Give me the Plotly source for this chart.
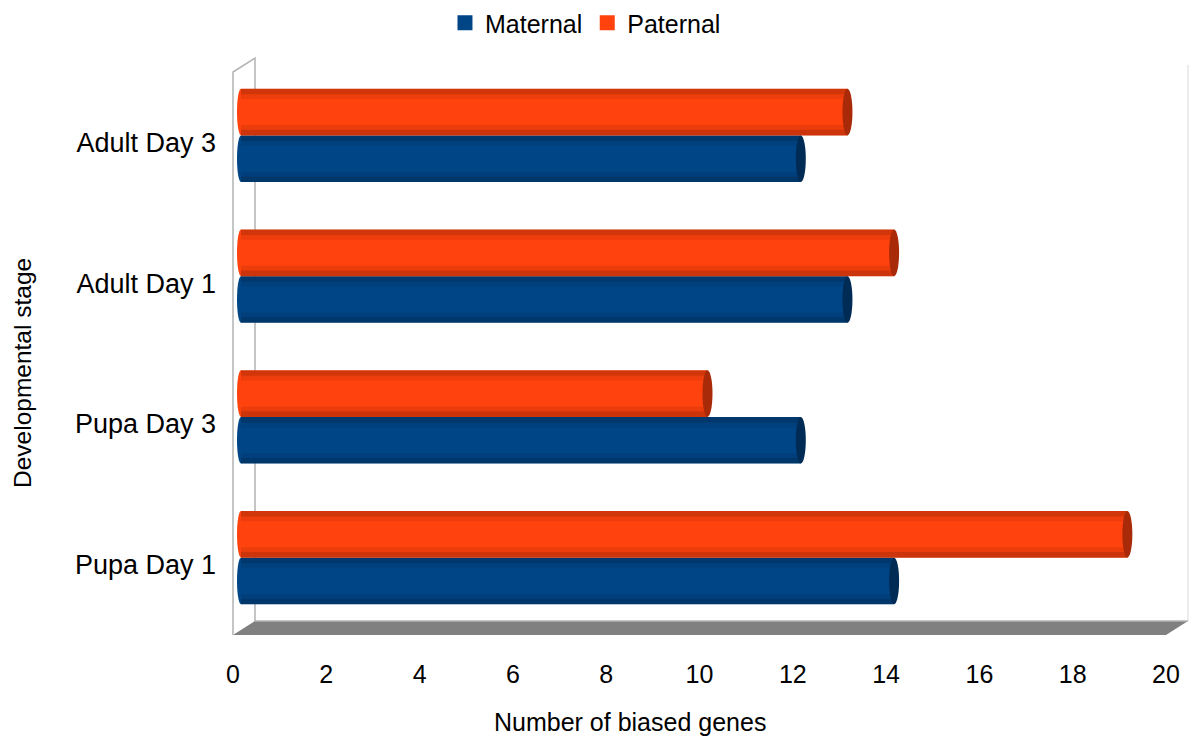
import plotly.graph_objects as go

# Data
stages = ["Pupa Day 1", "Pupa Day 3", "Adult Day 1", "Adult Day 3"]
maternal = [14, 12, 13, 12]
paternal = [19, 10, 14, 13]
x_ticks = [0, 2, 4, 6, 8, 10, 12, 14, 16, 18, 20]

MAT_COLOR = "#004586"
PAT_COLOR = "#ff420e"
MAT_CAP = "#002b55"
PAT_CAP = "#a82a08"
WALL = "#b3b3b3"
FLOOR = "#808080"
FONT = "Liberation Sans, Arial, sans-serif"

W, H = 1190, 742
ML, MR, MT, MB = 233, 16, 65, 107
PW = W - ML - MR          # plot area width in px
PH = H - MT - MB          # plot area height in px
DX, DY = 8, 7             # depth offset of the bars (px)
BX, BY = 22, 14           # depth offset of the back wall (px)

XMAX = 20
xscale = (PW - DX) / XMAX         # px per unit on the front axis
yscale = (PH - DY) / len(stages)  # px per category on the front axis

BARGAP = 0.336
bar_w = (1 - BARGAP) / 2

fig = go.Figure()
fig.add_trace(go.Bar(name="Maternal", y=stages, x=maternal, orientation="h",
                     marker=dict(color=MAT_COLOR, line=dict(width=0)),
                     xaxis="x2", yaxis="y2", showlegend=False))
fig.add_trace(go.Bar(name="Paternal", y=stages, x=paternal, orientation="h",
                     marker=dict(color=PAT_COLOR, line=dict(width=0)),
                     xaxis="x2", yaxis="y2", showlegend=False))
# invisible trace so the front axes (ticks) are rendered
fig.add_trace(go.Scatter(x=paternal, y=stages, mode="none", showlegend=False,
                         hoverinfo="skip", xaxis="x", yaxis="y"))
# legend entries with square keys
for name, col in [("Maternal", MAT_COLOR), ("Paternal", PAT_COLOR)]:
    fig.add_trace(go.Scatter(x=[None], y=[None], mode="markers", name=name,
                             marker=dict(symbol="square", size=15, color=col),
                             xaxis="x2", yaxis="y2"))

shapes = []


def px(x):
    return x / PW


def py(y):
    return y / PH


# floor slab
shapes.append(dict(type="path", xref="paper", yref="paper",
                   path=f"M 0 0 L {px(PW - DX)} 0 L {px(PW - DX + BX)} {py(BY)} "
                        f"L {px(BX)} {py(BY)} Z",
                   fillcolor=FLOOR, line=dict(width=0), layer="below"))
# back wall lower edge
shapes.append(dict(type="line", xref="paper", yref="paper",
                   x0=px(BX), x1=px(PW - DX + BX), y0=py(BY), y1=py(BY),
                   line=dict(color=WALL, width=1.5), layer="below"))
# back wall right edge
shapes.append(dict(type="line", xref="paper", yref="paper",
                   x0=px(PW - DX + BX), x1=px(PW - DX + BX), y0=py(BY), y1=1,
                   line=dict(color="#d9d9d9", width=1), layer="below"))
# left wall outline
top_front = py(PH - DY)
shapes.append(dict(type="path", xref="paper", yref="paper",
                   path=f"M 0 0 L 0 {top_front} L {px(BX)} {top_front + py(BY)} "
                        f"L {px(BX)} {py(BY)}",
                   line=dict(color=WALL, width=1.5), layer="below"))

# cylinder shading and end caps for each bar
for series, vals, col, cap in [(0, maternal, MAT_COLOR, MAT_CAP),
                               (1, paternal, PAT_COLOR, PAT_CAP)]:
    for i, v in enumerate(vals):
        c = i + (series - 0.5) * bar_w
        y0, y1 = c - bar_w / 2, c + bar_w / 2
        # rounded back end
        shapes.append(dict(type="circle", xref="x2", yref="y2", xsizemode="pixel",
                           xanchor=0, x0=-4, x1=4, y0=y0, y1=y1,
                           fillcolor=col, line=dict(width=0), layer="below"))
        # edge shading
        for a, b, op in [(y1 - bar_w * 0.12, y1, 0.18), (y1 - bar_w * 0.22, y1 - bar_w * 0.12, 0.07),
                         (y0, y0 + bar_w * 0.12, 0.2), (y0 + bar_w * 0.12, y0 + bar_w * 0.22, 0.08)]:
            shapes.append(dict(type="rect", xref="x2", yref="y2", x0=0, x1=v, y0=a, y1=b,
                               fillcolor=f"rgba(0,0,0,{op})", line=dict(width=0)))
        # front cap
        shapes.append(dict(type="circle", xref="x2", yref="y2", xsizemode="pixel",
                           xanchor=v, x0=-5, x1=5, y0=y0, y1=y1,
                           fillcolor=cap, line=dict(width=0)))

x2_start = -DX / xscale
y2_start = -0.5 - DY / yscale

annotations = [
    dict(text="Number of biased genes", xref="paper", yref="paper",
         x=(630 - ML) / PW, y=-(722 - (MT + PH)) / PH, xanchor="center", yanchor="middle",
         showarrow=False, font=dict(size=25)),
    dict(text="Developmental stage", xref="paper", yref="paper", textangle=-90,
         x=(22 - ML) / PW, y=(MT + PH - 373) / PH, xanchor="center", yanchor="middle",
         showarrow=False, font=dict(size=24.5)),
]

fig.update_layout(
    width=W, height=H,
    margin=dict(l=ML, r=MR, t=MT, b=MB, autoexpand=False),
    paper_bgcolor="white", plot_bgcolor="rgba(0,0,0,0)",
    barmode="group", bargap=BARGAP, bargroupgap=0,
    font=dict(family=FONT, color="black"),
    showlegend=True,
    legend=dict(orientation="h", xref="container", yref="container",
                x=0.492, xanchor="center", y=1.0, yanchor="top",
                font=dict(size=25), itemwidth=30, traceorder="normal"),
    xaxis=dict(domain=[0, (PW - DX) / PW], range=[0, XMAX], tickvals=x_ticks,
               showgrid=False, zeroline=False, showline=False, ticks="",
               tickfont=dict(size=25), ticklabelstandoff=22, automargin=False,
               anchor="y", fixedrange=True),
    yaxis=dict(domain=[0, (PH - DY) / PH], type="category", categoryorder="array",
               categoryarray=stages, range=[-0.5, len(stages) - 0.5],
               showgrid=False, zeroline=False, showline=False, ticks="",
               tickfont=dict(size=27), ticklabelstandoff=16, automargin=False,
               anchor="x", fixedrange=True),
    xaxis2=dict(domain=[0, 1], range=[x2_start, x2_start + PW / xscale],
                visible=False, anchor="y2", fixedrange=True),
    yaxis2=dict(domain=[0, 1], type="category", categoryorder="array",
                categoryarray=stages, range=[y2_start, y2_start + PH / yscale],
                visible=False, anchor="x2", fixedrange=True),
    shapes=shapes,
    annotations=annotations,
)

fig.write_html("out.html")
